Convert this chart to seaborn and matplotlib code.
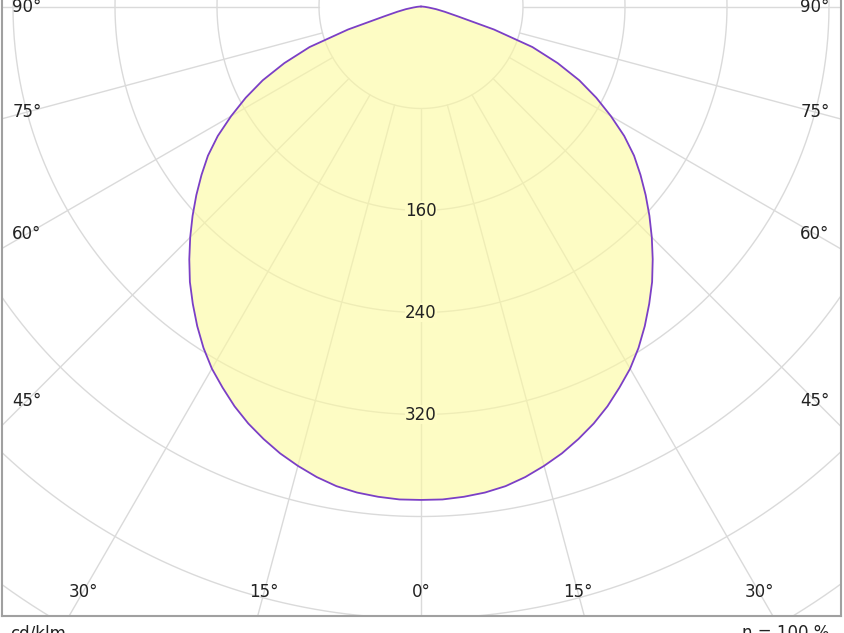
import numpy as np
import pandas as pd
import matplotlib
matplotlib.use("Agg")
import matplotlib.pyplot as plt
import seaborn as sns

# ---- data (cd/klm, symmetric C0/C180 plane) ----
gamma = [0, 2.5, 5, 7.5, 10, 12.5, 15, 17.5, 20, 22.5, 25, 27.5, 30, 32.5, 35, 37.5,
         40, 42.5, 45, 47.5, 50, 52.5, 55, 57.5, 60, 62.5, 65, 67.5, 70, 72.5, 75,
         77.5, 80, 82.5, 85, 87.5, 90]
intensity = [387, 387, 386, 384.5, 382, 378, 373, 367.5, 361, 354, 346, 337, 328, 317.5, 306, 294,
             282, 269, 256, 243, 230, 217, 204, 189, 172, 155, 137, 116, 93, 60, 30,
             19, 12, 6, 3, 1, 0]
ring_values = [80, 160, 240, 320, 400, 480, 560, 640]
ring_labels = [160, 240, 320]
angle_ticks = [0, 15, 30, 45, 60, 75, 90]
unit_label = "cd/klm"
eta_label = "η = 100 %"

sns.set_theme(style="white")
plt.rcParams['font.family'] = ['DejaVu Sans']

W, H = 844, 633
fig = plt.figure(figsize=(W / 100, H / 100), dpi=100)

# pixel geometry
cx, cy = 421.0, 6.5
scale = 102.0 / 80.0  # px per cd/klm
left_px, right_px, bottom_px, top_px = 1.5, 840.5, 616.0, 0.0
ax = fig.add_axes([left_px / W, 1 - bottom_px / H, (right_px - left_px) / W, (bottom_px - top_px) / H])
ax.set_xlim((left_px - cx) / scale, (right_px - cx) / scale)
ax.set_ylim(-(bottom_px - cy) / scale, (cy - top_px) / scale)
ax.set_aspect('auto')

grid_col = "#dadada"
# rings
t = np.linspace(0, 2 * np.pi, 721)
for r in ring_values:
    ax.plot(r * np.sin(t), r * np.cos(t), color=grid_col, lw=1.0, zorder=1)
# radial lines from the first ring outward
for a in range(-90, 91, 15):
    ar = np.deg2rad(a)
    r0, r1 = ring_values[0], 900
    ax.plot([r0 * np.sin(ar), r1 * np.sin(ar)], [-r0 * np.cos(ar), -r1 * np.cos(ar)],
            color=grid_col, lw=1.0, zorder=1)

# curve (mirror both halves)
g = np.array(gamma, dtype=float)
I = np.array(intensity, dtype=float)
ang = np.concatenate([-g[::-1], g[1:]])
val = np.concatenate([I[::-1], I[1:]])
df = pd.DataFrame({"x": val * np.sin(np.deg2rad(ang)), "y": -val * np.cos(np.deg2rad(ang))})
ax.fill(df["x"], df["y"], color="#fdfa9e", alpha=0.6, lw=0, zorder=2)
sns.lineplot(data=df, x="x", y="y", sort=False, estimator=None, color="#7b3fc6", lw=1.3, ax=ax, zorder=3)

# ring labels along 0 deg
for v in ring_labels:
    ax.text(0, -v, str(v), ha="center", va="center", fontsize=12, color="#222222", zorder=4,
            bbox=dict(facecolor="#fefcc5", edgecolor="none", pad=0.3))

# angle labels: placed where radial line meets an inset box
inset_x = (421 - 27) / scale
inset_y = (592 - cy) / scale
for a in angle_ticks:
    ar = np.deg2rad(a)
    s, c = np.sin(ar), np.cos(ar)
    t_side = inset_x / s if s > 1e-9 else np.inf
    t_bot = inset_y / c if c > 1e-9 else np.inf
    tt = min(t_side, t_bot)
    for sign in ([1, -1] if a != 0 else [1]):
        ax.text(sign * tt * s, -tt * c, f"{a}°", ha="center", va="center", fontsize=12,
                color="#222222", zorder=4)

for side in ["left", "right", "bottom"]:
    ax.spines[side].set_color("#a0a0a0")
    ax.spines[side].set_linewidth(1.5)
ax.spines["top"].set_visible(False)
ax.set_xticks([])
ax.set_yticks([])
ax.set_xlabel("")
ax.set_ylabel("")

fig.text(10 / W, 1 - 624 / H, unit_label, ha="left", va="top", fontsize=12, color="#222222")
fig.text(829 / W, 1 - 624 / H, eta_label, ha="right", va="top", fontsize=12, color="#222222")

fig.savefig("out.png", dpi=100)
